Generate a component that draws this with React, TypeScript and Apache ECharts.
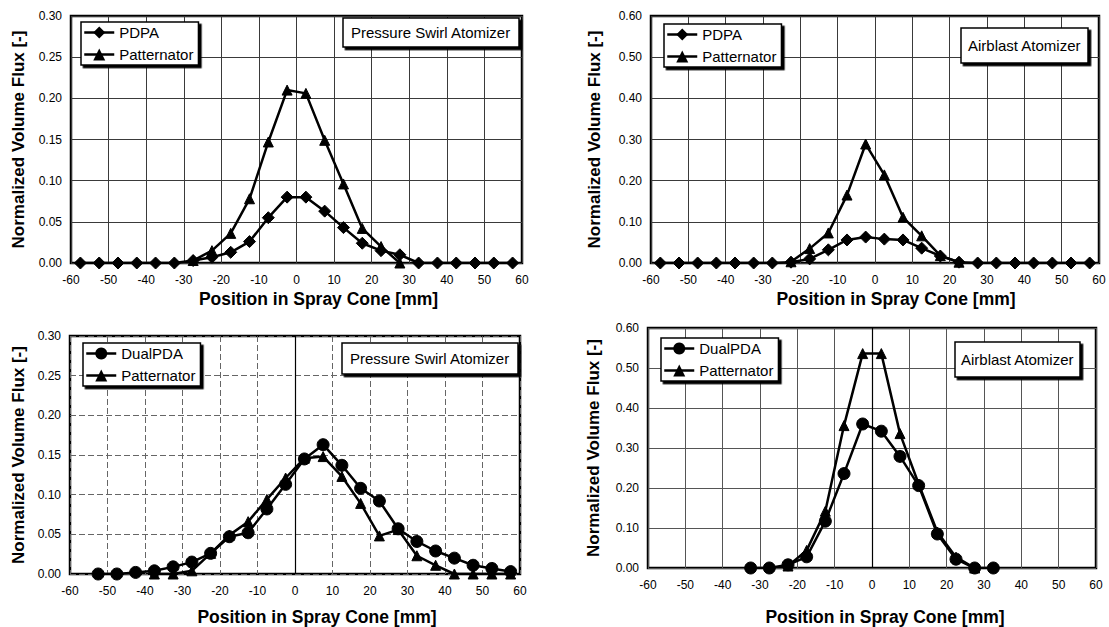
import React, { useEffect, useRef } from "react";
import * as echarts from "echarts";

// ---------- data ----------
const POS_FULL = [-57.5, -52.5, -47.5, -42.5, -37.5, -32.5, -27.5, -22.5, -17.5, -12.5, -7.5, -2.5, 2.5, 7.5, 12.5, 17.5, 22.5, 27.5, 32.5, 37.5, 42.5, 47.5, 52.5, 57.5];

// Panel 1: Pressure swirl, PDPA vs Patternator
const P1_PDPA = [0, 0, 0, 0, 0, 0, 0.003, 0.007, 0.013, 0.026, 0.055, 0.080, 0.080, 0.063, 0.043, 0.024, 0.015, 0.010, 0, 0, 0, 0, 0, 0];
const P1_PATT_POS = [-27.5, -22.5, -17.5, -12.5, -7.5, -2.5, 2.5, 7.5, 12.5, 17.5, 22.5, 27.5];
const P1_PATT = [0.003, 0.015, 0.036, 0.078, 0.147, 0.210, 0.206, 0.149, 0.096, 0.042, 0.020, 0.0];

// Panel 2: Airblast, PDPA vs Patternator
const P2_PDPA = [0, 0, 0, 0, 0, 0, 0, 0.002, 0.010, 0.032, 0.056, 0.063, 0.058, 0.056, 0.036, 0.017, 0.002, 0, 0, 0, 0, 0, 0, 0];
const P2_PATT_POS = [-22.5, -17.5, -12.5, -7.5, -2.5, 2.5, 7.5, 12.5, 17.5, 22.5];
const P2_PATT = [0.003, 0.035, 0.073, 0.165, 0.289, 0.214, 0.111, 0.066, 0.018, 0.002];

// Panel 3: Pressure swirl, DualPDA vs Patternator
const P3_DUAL_POS = [-52.5, -47.5, -42.5, -37.5, -32.5, -27.5, -22.5, -17.5, -12.5, -7.5, -2.5, 2.5, 7.5, 12.5, 17.5, 22.5, 27.5, 32.5, 37.5, 42.5, 47.5, 52.5, 57.5];
const P3_DUAL = [0, 0, 0.002, 0.004, 0.009, 0.015, 0.026, 0.047, 0.052, 0.082, 0.113, 0.145, 0.163, 0.137, 0.108, 0.092, 0.057, 0.041, 0.029, 0.020, 0.011, 0.007, 0.003];
const P3_PATT_POS = [-37.5, -32.5, -27.5, -22.5, -17.5, -12.5, -7.5, -2.5, 2.5, 7.5, 12.5, 17.5, 22.5, 27.5, 32.5, 37.5, 42.5, 47.5, 52.5, 57.5];
const P3_PATT = [0, 0, 0.004, 0.026, 0.049, 0.066, 0.094, 0.121, 0.146, 0.148, 0.123, 0.089, 0.048, 0.056, 0.023, 0.011, 0, 0, 0, 0];

// Panel 4: Airblast, DualPDA vs Patternator
const P4_DUAL_POS = [-32.5, -27.5, -22.5, -17.5, -12.5, -7.5, -2.5, 2.5, 7.5, 12.5, 17.5, 22.5, 27.5, 32.5];
const P4_DUAL = [0, 0, 0.008, 0.028, 0.117, 0.236, 0.360, 0.342, 0.279, 0.206, 0.085, 0.022, 0, 0];
const P4_PATT_POS = [-22.5, -17.5, -12.5, -7.5, -2.5, 2.5, 7.5, 12.5, 17.5, 22.5, 27.5];
const P4_PATT = [0.005, 0.044, 0.142, 0.356, 0.536, 0.536, 0.336, 0.210, 0.090, 0.027, 0];

const X_TICKS_MIN = -60;
const X_TICKS_MAX = 60;
const X_TITLE = "Position in Spray Cone [mm]";
const Y_TITLE = "Normalized Volume Flux [-]";
const TITLES = ["Pressure Swirl Atomizer", "Airblast Atomizer", "Pressure Swirl Atomizer", "Airblast Atomizer"];

const zip = (xs: number[], ys: number[]) => xs.map((x, i) => [x, ys[i]]);

const FONT = "Arial, 'Liberation Sans', Helvetica, sans-serif";

export default function App() {
  const ref = useRef<HTMLDivElement>(null);

  useEffect(() => {
    if (!ref.current) return;
    const chart = echarts.init(ref.current, null, { renderer: "svg" });

    const panels = [
      {
        grid: { left: 71, top: 16, width: 451, height: 247 },
        yMax: 0.3, yInt: 0.05, xGap: 27, xShift: 44, yGap: 44,
        split: { color: "#3a3a3a", width: 1, type: "solid" },
        legend: { left: 81, top: 22 },
        title: { left: 343, top: 18, padding: [6, 8] },
        zeroLine: false,
        series: [
          { name: "PDPA", symbol: "diamond", size: 12, data: zip(POS_FULL, P1_PDPA) },
          { name: "Patternator", symbol: "triangle", size: 10, data: zip(P1_PATT_POS, P1_PATT) },
        ],
      },
      {
        grid: { left: 651, top: 16, width: 448, height: 247 },
        yMax: 0.6, yInt: 0.1, xGap: 27, xShift: 42, yGap: 48,
        split: { color: "#3a3a3a", width: 1, type: "solid" },
        legend: { left: 664, top: 24 },
        title: { left: 961, top: 28, padding: [9, 7] },
        zeroLine: false,
        series: [
          { name: "PDPA", symbol: "diamond", size: 12, data: zip(POS_FULL, P2_PDPA) },
          { name: "Patternator", symbol: "triangle", size: 10, data: zip(P2_PATT_POS, P2_PATT) },
        ],
      },
      {
        grid: { left: 70, top: 336, width: 450, height: 239 },
        yMax: 0.3, yInt: 0.05, xGap: 34, xShift: 44, yGap: 43,
        split: { color: "#666", width: 1, type: [6, 3] },
        legend: { left: 83, top: 343 },
        title: { left: 342, top: 343, padding: [7, 8] },
        zeroLine: true,
        series: [
          { name: "DualPDA", symbol: "circle", size: 12, data: zip(P3_DUAL_POS, P3_DUAL) },
          { name: "Patternator", symbol: "triangle", size: 10, data: zip(P3_PATT_POS, P3_PATT) },
        ],
      },
      {
        grid: { left: 648, top: 328, width: 448, height: 247 },
        yMax: 0.6, yInt: 0.1, xGap: 40, xShift: 26, yGap: 46,
        split: { color: "#555", width: 1, type: "solid" },
        legend: { left: 661, top: 338 },
        title: { left: 955, top: 342, padding: [9, 6] },
        zeroLine: true,
        series: [
          { name: "DualPDA", symbol: "circle", size: 12, data: zip(P4_DUAL_POS, P4_DUAL) },
          { name: "Patternator", symbol: "triangle", size: 10, data: zip(P4_PATT_POS, P4_PATT) },
        ],
      },
    ];

    const grids: any[] = [];
    const xAxes: any[] = [];
    const yAxes: any[] = [];
    const legends: any[] = [];
    const titles: any[] = [];
    const series: any[] = [];

    panels.forEach((p, i) => {
      grids.push({
        ...p.grid,
        show: true,
        borderColor: "#000",
        borderWidth: 2.5,
        backgroundColor: "transparent",
        containLabel: false,
      });
      xAxes.push({
        type: "value",
        gridIndex: i,
        min: X_TICKS_MIN,
        max: X_TICKS_MAX,
        interval: 10,
        axisLine: { show: false },
        axisTick: { show: false },
        splitLine: { show: true, lineStyle: p.split },
        axisLabel: { fontSize: 12, color: "#000", margin: 11, fontFamily: FONT },
        name: X_TITLE,
        nameLocation: "middle",
        nameGap: p.xGap,
        nameTextStyle: {
          fontSize: 17.5,
          fontWeight: "bold",
          color: "#000",
          fontFamily: FONT,
          padding: [0, 0, 0, p.xShift],
        },
      });
      yAxes.push({
        type: "value",
        gridIndex: i,
        min: 0,
        max: p.yMax,
        interval: p.yInt,
        axisLine: { show: false },
        axisTick: { show: false },
        splitLine: { show: true, lineStyle: p.split },
        axisLabel: {
          fontSize: 12,
          color: "#000",
          margin: 9,
          fontFamily: FONT,
          formatter: (v: number) => v.toFixed(2),
        },
        name: Y_TITLE,
        nameLocation: "middle",
        nameGap: p.yGap,
        nameTextStyle: { fontSize: 17, fontWeight: "bold", color: "#000", fontFamily: FONT },
      });
      legends.push({
        left: p.legend.left,
        top: p.legend.top,
        orient: "vertical",
        padding: [2, 5, 2, 2],
        itemGap: 5,
        itemWidth: 30,
        itemHeight: 15,
        itemTextGap: 3,
        backgroundColor: "#fff",
        borderColor: "#000",
        borderWidth: 1.5,
        borderRadius: 0,
        shadowColor: "#000",
        shadowBlur: 0,
        shadowOffsetX: 2.5,
        shadowOffsetY: 2.5,
        selectedMode: false,
        lineStyle: { width: 2.5, color: "#000" },
        itemStyle: { color: "#000" },
        textStyle: { fontSize: 15, color: "#000", lineHeight: 17, fontFamily: FONT },
        data: p.series.map((s) => s.name),
      });
      titles.push({
        text: TITLES[i],
        left: p.title.left,
        top: p.title.top,
        padding: p.title.padding,
        backgroundColor: "#fff",
        borderColor: "#000",
        borderWidth: 1.5,
        shadowColor: "#000",
        shadowBlur: 0,
        shadowOffsetX: 2.5,
        shadowOffsetY: 2.5,
        textStyle: { fontSize: 15, fontWeight: "normal", color: "#000", lineHeight: 17, fontFamily: FONT },
      });
      p.series.forEach((s, k) => {
        series.push({
          type: "line",
          name: s.name,
          xAxisIndex: i,
          yAxisIndex: i,
          data: s.data,
          symbol: s.symbol,
          symbolSize: s.size,
          showAllSymbol: true,
          lineStyle: { color: "#000", width: 2.5 },
          itemStyle: { color: "#000", borderColor: "#000" },
          emphasis: { disabled: true },
          z: 3 + k,
          markLine:
            p.zeroLine && k === 0
              ? {
                  silent: true,
                  symbol: ["none", "none"],
                  label: { show: false },
                  lineStyle: { color: "#000", width: 1.2, type: "solid" },
                  data: [{ xAxis: 0 }],
                }
              : undefined,
        });
      });
    });

    chart.setOption({
      animation: false,
      backgroundColor: "#fff",
      textStyle: { fontFamily: FONT },
      title: titles,
      legend: legends,
      grid: grids,
      xAxis: xAxes,
      yAxis: yAxes,
      series,
    });

    return () => chart.dispose();
  }, []);

  return (
    <div
      ref={ref}
      style={{ position: "absolute", left: 0, top: 0, width: 1109, height: 627 }}
    />
  );
}
